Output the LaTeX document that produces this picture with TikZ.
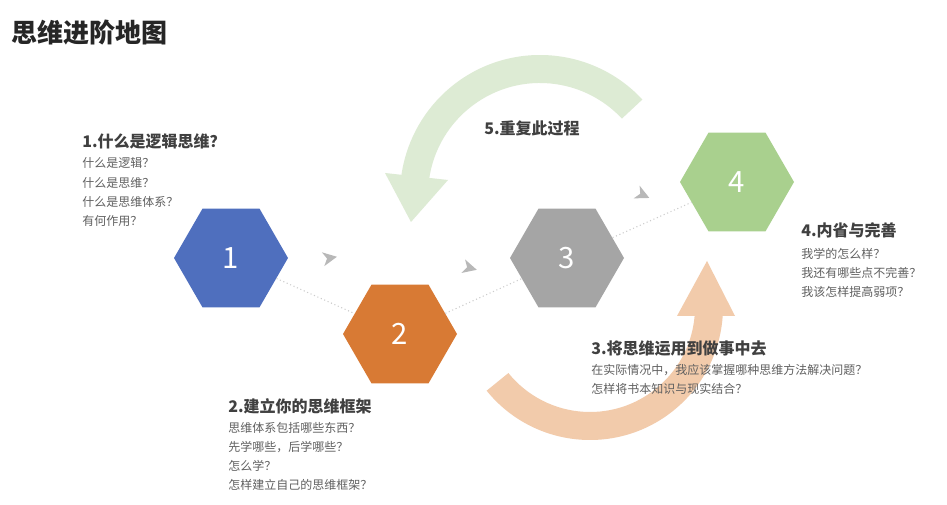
\documentclass[tikz,border=0pt]{standalone}
\usepackage{fontspec}
\setmainfont{Noto Sans CJK SC}
\usetikzlibrary{shapes.geometric}
\definecolor{hblue}{HTML}{4F6FBE}
\definecolor{horange}{HTML}{D87A34}
\definecolor{hgray}{HTML}{A5A5A5}
\definecolor{hgreen}{HTML}{A9D08E}
\definecolor{lgreen}{HTML}{DDEBD4}
\definecolor{lorange}{HTML}{F2CBAB}
\definecolor{headc}{HTML}{404040}
\definecolor{bodyc}{HTML}{606060}
\tikzset{
 hexa/.style={regular polygon,regular polygon sides=6,shape border rotate=0,minimum size=85.5pt,inner sep=0pt,text=white,font=\fontsize{22}{24}\selectfont},
 head/.style={anchor=west,inner sep=0pt,text=headc,font=\bfseries\fontsize{12}{14}\selectfont},
 body/.style={anchor=west,inner sep=0pt,text=bodyc,font=\fontsize{9}{11}\selectfont},
 dotline/.style={draw=black!20,dotted,line width=0.8pt},
 chev/.style={fill=black!28,draw=none},
}
\begin{document}
\begin{tikzpicture}[x=0.75pt,y=-0.75pt]
\useasboundingbox[fill=white] (0,0) rectangle (947,505);
% big arrows
\fill[lgreen] (540,195) ++(-43:140) arc[start angle=-43,end angle=-172,radius=140] -- ++(-172:-28) arc[start angle=-172,end angle=-43,radius=112] -- cycle;
\fill[lgreen] (385,173) -- (448,180) -- (411,222) -- cycle;
\fill[lorange] (590,307) ++(141:133) arc[start angle=141,end angle=3,radius=133] -- ++(3:-28) arc[start angle=3,end angle=141,radius=105] -- cycle;
\fill[lorange] (677,316) -- (735,316) -- (707,261) -- cycle;
% hexagons
\node[hexa,fill=hblue] (h1) at (231,258) {1};
\node[hexa,fill=horange] (h2) at (400,334) {2};
\node[hexa,fill=hgray] (h3) at (567,258) {3};
\node[hexa,fill=hgreen] (h4) at (737,182) {4};
\draw[dotline] (h1) -- (h2);
\draw[dotline] (h2) -- (h3);
\draw[dotline] (h3) -- (h4);
% chevrons
\foreach \p/\a in {{(330,258)}/10,{(470,268)}/-15,{(643,195)}/-25}{
 \fill[chev,shift={\p},rotate=\a] (-7,-7) -- (7,0) -- (-7,7) -- (-3,0) -- cycle;
}
% texts
\node[anchor=west,inner sep=0pt,text=black!85,font=\bfseries\fontsize{19.5}{22}\selectfont] (title) at (11,33) {思维进阶地图};
\node[head] (t5) at (484,128) {5.重复此过程};
\node[head] (t1) at (82,141) {1.什么是逻辑思维？};
\node[body] (t1a) at (82,163) {什么是逻辑？};
\node[body] (t1b) at (82,183) {什么是思维？};
\node[body] (t1c) at (82,202) {什么是思维体系？};
\node[body] (t1d) at (82,221) {有何作用？};
\node[head] (t2) at (228,406) {2.建立你的思维框架};
\node[body] (t2a) at (228,428) {思维体系包括哪些东西？};
\node[body] (t2b) at (228,447) {先学哪些，后学哪些？};
\node[body] (t2c) at (228,466) {怎么学？};
\node[body] (t2d) at (228,485) {怎样建立自己的思维框架？};
\node[head] (t3) at (591,348) {3.将思维运用到做事中去};
\node[body] (t3a) at (591,370) {在实际情况中，我应该掌握哪种思维方法解决问题？};
\node[body] (t3b) at (591,389) {怎样将书本知识与现实结合？};
\node[head] (t4) at (801,230) {4.内省与完善};
\node[body] (t4a) at (801,254) {我学的怎么样？};
\node[body] (t4b) at (801,273) {我还有哪些点不完善？};
\node[body] (t4c) at (801,292) {我该怎样提高弱项？};
\end{tikzpicture}
\end{document}
